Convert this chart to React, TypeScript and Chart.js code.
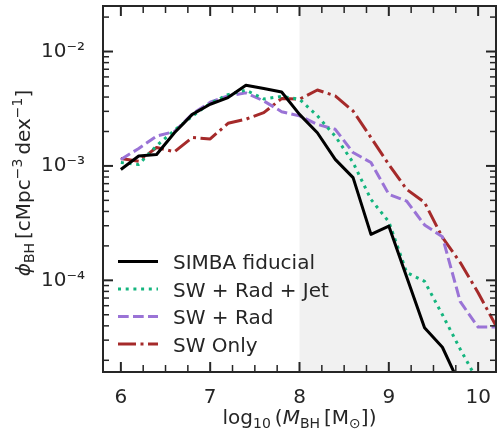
import React, { useEffect, useRef } from "react";
import { Chart, registerables } from "chart.js";

Chart.register(...registerables);

// ---- data ----
const massBins = [6.0, 6.2, 6.4, 6.6, 6.8, 7.0, 7.2, 7.4, 7.6, 7.8, 8.0, 8.2, 8.4, 8.6, 8.8, 9.0, 9.2, 9.4, 9.6, 9.8, 10.0, 10.2];
const simbaFiducial = [9.3e-4, 1.22e-3, 1.26e-3, 1.95e-3, 2.82e-3, 3.46e-3, 3.96e-3, 5.07e-3, 4.75e-3, 4.43e-3, 2.82e-3, 1.95e-3, 1.14e-3, 7.9e-4, 2.52e-4, 2.98e-4, 1.07e-4, 3.85e-5, 2.6e-5, 1.2e-5, null, null];
const swRadJet = [1.07e-3, 1.03e-3, 1.5e-3, 2.05e-3, 2.72e-3, 3.53e-3, 4.2e-3, 4.6e-3, 3.85e-3, 4.05e-3, 3.83e-3, 2.74e-3, 1.82e-3, 1.07e-3, 5.1e-4, 3.25e-4, 1.17e-4, 9.8e-5, 5.0e-5, 2.5e-5, 1.3e-5, null];
const swRad = [1.14e-3, 1.42e-3, 1.82e-3, 2.0e-3, 2.85e-3, 3.6e-3, 4.1e-3, 4.35e-3, 3.7e-3, 2.98e-3, 2.74e-3, 2.31e-3, 2.09e-3, 1.31e-3, 1.07e-3, 5.65e-4, 4.93e-4, 3.05e-4, 2.4e-4, 6.5e-5, 3.9e-5, 3.9e-5];
const swOnly = [1.16e-3, 1.1e-3, 1.45e-3, 1.33e-3, 1.77e-3, 1.72e-3, 2.36e-3, 2.56e-3, 2.92e-3, 3.88e-3, 3.83e-3, 4.61e-3, 4.09e-3, 3.02e-3, 1.77e-3, 1.03e-3, 6.24e-4, 4.8e-4, 2.37e-4, 1.43e-4, 7.8e-5, 4.0e-5];
const seriesLabels = ["SIMBA fiducial", "SW + Rad + Jet", "SW + Rad", "SW Only"];
const xTickValues = [6, 7, 8, 9, 10];
const yTickValues = [1e-4, 1e-3, 1e-2];
const yTickLabels = ["10\u207B\u2074", "10\u207B\u00B3", "10\u207B\u00B2"];
const shadeStart = 8;

const TEXT = "#262626";
const FRAME = "#262626";
const FONT = "DejaVu Sans";

type Part = { t: string; f: string; dy?: number };

function drawRich(ctx: CanvasRenderingContext2D, parts: Part[], cx: number, baseline: number) {
  let total = 0;
  const widths = parts.map((p) => {
    ctx.font = p.f;
    const w = ctx.measureText(p.t).width;
    total += w;
    return w;
  });
  let x = cx - total / 2;
  ctx.textAlign = "left";
  ctx.textBaseline = "alphabetic";
  parts.forEach((p, i) => {
    ctx.font = p.f;
    ctx.fillText(p.t, x, baseline + (p.dy || 0));
    x += widths[i];
  });
}

function drawFrameAndTicks(chart: any) {
  const ctx: CanvasRenderingContext2D = chart.ctx;
  const a = chart.chartArea;
  const left = a.left, right = a.right, top = a.top, bottom = a.bottom;
  const xS = chart.scales.x;
  const yS = chart.scales.y;
  ctx.save();
  ctx.setTransform(1, 0, 0, 1, 0, 0);
  ctx.globalAlpha = 1;
  ctx.setLineDash([]);
  ctx.strokeStyle = FRAME;
  ctx.fillStyle = FRAME;
  const seg = (x1: number, y1: number, x2: number, y2: number, w: number) => {
    ctx.lineWidth = w;
    ctx.beginPath();
    ctx.moveTo(x1, y1);
    ctx.lineTo(x2, y2);
    ctx.stroke();
  };
  for (let k = 24; k <= 40; k++) {
    const v = k * 0.25;
    const px = xS.getPixelForValue(v);
    const major = k % 4 === 0;
    const len = major ? 10 : 7;
    const w = major ? 2 : 1.5;
    seg(px, bottom, px, bottom - len, w);
    seg(px, top, px, top + len, w);
  }
  for (let d = -5; d <= -2; d++) {
    for (let m = 1; m <= 9; m++) {
      const v = m * Math.pow(10, d);
      if (v < 1.58e-5 || v > 2.5e-2) continue;
      const py = yS.getPixelForValue(v);
      const major = m === 1;
      const len = major ? 10 : 6;
      const w = major ? 2 : 1.5;
      seg(left, py, left + len, py, w);
      seg(right, py, right - len, py, w);
    }
  }
  ctx.lineWidth = 2;
  ctx.strokeRect(left, top, right - left, bottom - top);
  ctx.restore();
}

const decorPlugin = {
  id: "decor",
  beforeDatasetsDraw(chart: any) {
    const { ctx, chartArea, scales } = chart;
    const xs = scales.x.getPixelForValue(shadeStart);
    ctx.save();
    ctx.fillStyle = "#f1f1f1";
    ctx.fillRect(xs, chartArea.top, chartArea.right - xs, chartArea.bottom - chartArea.top);
    ctx.restore();
  },
  afterDraw(chart: any) {
    const ctx: CanvasRenderingContext2D = chart.ctx;
    const area = chart.chartArea;
    const left = area.left, right = area.right, bottom = area.bottom;
    ctx.save();
    const ds = chart.data.datasets;
    const lx0 = left + 15;
    const lx1 = left + 55;
    const tx = left + 70;
    ds.forEach((d: any, i: number) => {
      const ly = bottom - 110.5 + i * 27.5;
      ctx.save();
      ctx.strokeStyle = d.borderColor;
      ctx.lineWidth = d.borderWidth;
      ctx.setLineDash(d.borderDash || []);
      ctx.lineCap = "butt";
      ctx.beginPath();
      ctx.moveTo(lx0, ly);
      ctx.lineTo(lx1, ly);
      ctx.stroke();
      ctx.restore();
      ctx.fillStyle = TEXT;
      ctx.font = `20px "${FONT}"`;
      ctx.textAlign = "left";
      ctx.textBaseline = "alphabetic";
      ctx.fillText(d.label, tx, ly + 7.5);
    });

    const main = `20px "${FONT}"`;
    const ital = `italic 20px "${FONT}"`;
    const small = `14px "${FONT}"`;
    ctx.fillStyle = TEXT;
    drawRich(
      ctx,
      [
        { t: "log", f: main },
        { t: "10", f: small, dy: 4 },
        { t: "\u2009(", f: main },
        { t: "M", f: ital },
        { t: "BH", f: small, dy: 4 },
        { t: "\u2009[M", f: main },
        { t: "\u2299", f: small, dy: 4 },
        { t: "])", f: main },
      ],
      (left + right) / 2,
      424
    );
    ctx.translate(30, 183);
    ctx.rotate(-Math.PI / 2);
    drawRich(
      ctx,
      [
        { t: "\u03D5", f: ital },
        { t: "BH", f: small, dy: 4 },
        { t: "\u2009[cMpc", f: main },
        { t: "\u2212" + "3", f: small, dy: -8 },
        { t: "\u2009dex", f: main },
        { t: "\u2212" + "1", f: small, dy: -8 },
        { t: "]", f: main },
      ],
      0,
      0
    );
    ctx.restore();
    drawFrameAndTicks(chart);
  },
};

export default function App() {
  const ref = useRef<HTMLCanvasElement | null>(null);
  useEffect(() => {
    if (!ref.current) return;
    const mk = (data: (number | null)[]) => massBins.map((x, i) => ({ x, y: data[i] }));
    const chart = new Chart(ref.current, {
      type: "line",
      data: {
        datasets: [
          { label: seriesLabels[0], data: mk(simbaFiducial), borderColor: "#000000", borderWidth: 3, borderDash: [] },
          { label: seriesLabels[1], data: mk(swRadJet), borderColor: "#14b57e", borderWidth: 3, borderDash: [3, 4.7] },
          { label: seriesLabels[2], data: mk(swRad), borderColor: "#9a73d6", borderWidth: 3, borderDash: [10.7, 4.3] },
          { label: seriesLabels[3], data: mk(swOnly), borderColor: "#a52a2a", borderWidth: 3, borderDash: [18, 4.5, 3, 4.5] },
        ].map((d) => ({
          ...d,
          pointRadius: 0,
          tension: 0,
          fill: false,
          clip: 0,
          spanGaps: false,
          borderJoinStyle: "round" as const,
          borderCapStyle: "butt" as const,
        })),
      } as any,
      options: {
        responsive: false,
        animation: false,
        devicePixelRatio: 1,
        layout: { padding: { top: 6, right: 1, left: 0, bottom: 0 } },
        plugins: { legend: { display: false }, tooltip: { enabled: false } },
        scales: {
          x: {
            type: "linear",
            min: 5.8,
            max: 10.2,
            grid: { display: false },
            border: { display: false },
            afterBuildTicks: (s: any) => {
              s.ticks = xTickValues.map((v) => ({ value: v }));
            },
            afterFit: (s: any) => {
              s.height = 58;
              s.paddingLeft = 0;
              s.paddingRight = 0;
            },
            ticks: {
              autoSkip: false,
              maxRotation: 0,
              padding: 6,
              color: TEXT,
              font: { family: FONT, size: 20 },
              callback: (v: any) => String(v),
            },
          },
          y: {
            type: "logarithmic",
            min: 1.58e-5,
            max: 2.5e-2,
            grid: { display: false },
            border: { display: false },
            afterBuildTicks: (s: any) => {
              s.ticks = yTickValues.map((v) => ({ value: v }));
            },
            afterFit: (s: any) => {
              s.width = 103;
              s.paddingTop = 0;
              s.paddingBottom = 0;
            },
            ticks: {
              autoSkip: false,
              padding: 10,
              color: TEXT,
              font: { family: FONT, size: 20 },
              callback: (v: any) => {
                const i = yTickValues.findIndex((t) => Math.abs(t - v) / t < 1e-6);
                return i >= 0 ? yTickLabels[i] : "";
              },
            },
          },
        },
      } as any,
      plugins: [decorPlugin as any],
    });
    return () => chart.destroy();
  }, []);
  return (
    <div style={{ position: "absolute", left: 0, top: 0, width: 497, height: 430, background: "#fff" }}>
      <canvas ref={ref} width={497} height={430} style={{ display: "block" }} />
    </div>
  );
}
